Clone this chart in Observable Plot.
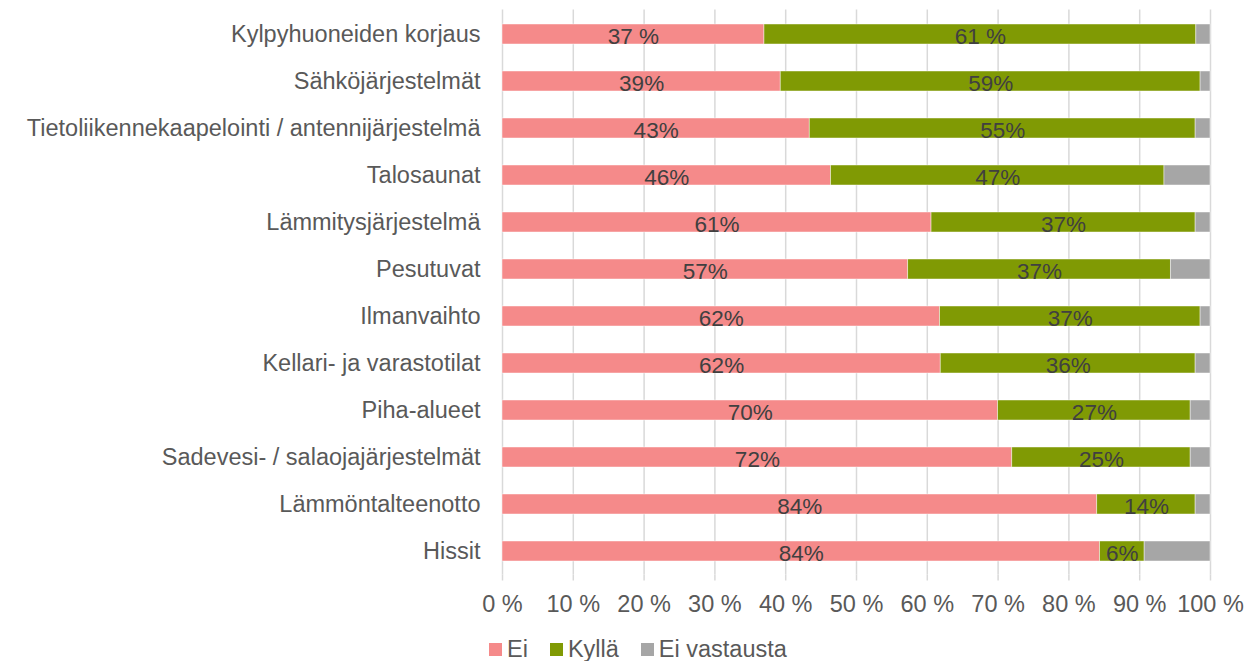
<!DOCTYPE html>
<html>
<head>
<meta charset="utf-8">
<script src="https://cdn.jsdelivr.net/npm/d3@7"></script>
<script src="https://cdn.jsdelivr.net/npm/@observablehq/plot@0.6"></script>
<style>
  body { margin: 0; background: #fff; font-family: "Liberation Sans", Arial, sans-serif; }
  #legend { display: flex; align-items: center; margin-top: 12px; padding-left: 489px; font-size: 23.5px; color: #595959; line-height: 24px; }
  #legend .item { display: flex; align-items: center; margin-right: 22px; }
  #legend .sw { width: 13px; height: 13px; margin-right: 5px; }
</style>
</head>
<body>
<div id="chart"></div>
<div id="legend"></div>
<script>
const categories = [
  "Kylpyhuoneiden korjaus",
  "Sähköjärjestelmät",
  "Tietoliikennekaapelointi / antennijärjestelmä",
  "Talosaunat",
  "Lämmitysjärjestelmä",
  "Pesutuvat",
  "Ilmanvaihto",
  "Kellari- ja varastotilat",
  "Piha-alueet",
  "Sadevesi- / salaojajärjestelmät",
  "Lämmöntalteenotto",
  "Hissit"
];
const seriesNames = ["Ei", "Kyllä", "Ei vastausta"];
const seriesColors = ["#F58A8A", "#809A04", "#A6A6A6"];
const eiValues    = [37.0, 39.3, 43.4, 46.4, 60.6, 57.3, 61.8, 61.9, 70.0, 72.0, 84.0, 84.4];
const kyllaValues = [61.0, 59.3, 54.5, 47.1, 37.3, 37.1, 36.8, 36.0, 27.2, 25.2, 13.9, 6.3];
const eiVastaustaValues = [2.0, 1.4, 2.1, 6.5, 2.1, 5.6, 1.4, 2.1, 2.8, 2.8, 2.1, 9.3];
const eiLabels    = ["37 %", "39%", "43%", "46%", "61%", "57%", "62%", "62%", "70%", "72%", "84%", "84%"];
const kyllaLabels = ["61 %", "59%", "55%", "47%", "37%", "37%", "37%", "36%", "27%", "25%", "14%", "6%"];
const xTicks = [0, 10, 20, 30, 40, 50, 60, 70, 80, 90, 100];

const rows = [];
categories.forEach((c, i) => {
  rows.push({cat: c, series: "Ei", value: eiValues[i], label: eiLabels[i]});
  rows.push({cat: c, series: "Kyllä", value: kyllaValues[i], label: kyllaLabels[i]});
  rows.push({cat: c, series: "Ei vastausta", value: eiVastaustaValues[i], label: ""});
});

const chart = Plot.plot({
  width: 1247,
  height: 625,
  marginLeft: 502,
  marginRight: 37,
  marginTop: 9.5,
  marginBottom: 50.5,
  style: {fontFamily: "'Liberation Sans', Arial, sans-serif", background: "#fff"},
  x: {domain: [0, 100]},
  y: {domain: categories, paddingInner: 0.58, paddingOuter: 0.29, align: 0.5},
  color: {domain: seriesNames, range: seriesColors},
  marks: [
    Plot.ruleX(xTicks, {stroke: "#D9D9D9", strokeWidth: 1.5}),
    Plot.axisX({ticks: xTicks, tickFormat: d => d + " %", tickSize: 6, stroke: "#D9D9D9", strokeWidth: 1.5, tickPadding: 14, fontSize: 23.5, fill: "#595959", label: null}),
    Plot.axisY({tickSize: 0, tickPadding: 22, fontSize: 23.5, fill: "#595959", label: null}),
    Plot.barX(rows, Plot.stackX({x: "value", y: "cat", z: "series", fill: "series", order: seriesNames, stroke: "#fff", strokeOpacity: 0.6, strokeWidth: 0.75})),
    Plot.text(rows, Plot.stackX({x: "value", y: "cat", z: "series", order: seriesNames, text: "label", fill: "#404040", fontSize: 22.5, dy: 2,
      fontFamily: "'Liberation Sans Narrow', 'Arial Narrow', 'Liberation Sans', sans-serif"}))
  ]
});
document.getElementById("chart").append(chart);

const legend = document.getElementById("legend");
seriesNames.forEach((name, i) => {
  const item = document.createElement("div");
  item.className = "item";
  const sw = document.createElement("span");
  sw.className = "sw";
  sw.style.background = seriesColors[i];
  const t = document.createElement("span");
  t.textContent = name;
  item.append(sw, t);
  legend.append(item);
});
</script>
</body>
</html>
